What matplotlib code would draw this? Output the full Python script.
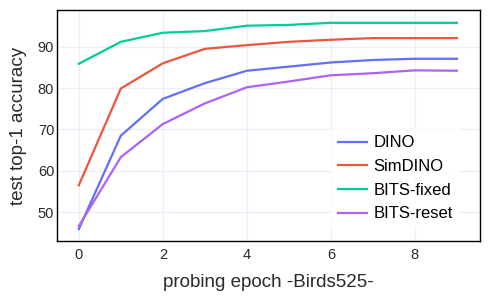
import matplotlib
matplotlib.use('Agg')
import matplotlib.pyplot as plt

plt.rcParams['font.family'] = ['Liberation Sans', 'DejaVu Sans']

# probing epochs
epochs = [0, 1, 2, 3, 4, 5, 6, 7, 8, 9]

# test top-1 accuracy per method
dino = [45.9, 68.5, 77.4, 81.2, 84.2, 85.2, 86.2, 86.8, 87.1, 87.1]
simdino = [56.5, 79.9, 86.0, 89.5, 90.4, 91.2, 91.7, 92.1, 92.1, 92.1]
bits_fixed = [85.9, 91.2, 93.4, 93.8, 95.1, 95.3, 95.8, 95.8, 95.8, 95.8]
bits_reset = [46.6, 63.3, 71.3, 76.3, 80.2, 81.6, 83.1, 83.6, 84.3, 84.2]

labels = ['DINO', 'SimDINO', 'BITS-fixed', 'BITS-reset']
colors = ['#636EFA', '#EF553B', '#00CC96', '#AB63FA']

fig = plt.figure(figsize=(5, 3), dpi=100)
ax = fig.add_axes([57/500, 1 - 241/300, 423/500, 231/300])

for ys, lab, col in zip([dino, simdino, bits_fixed, bits_reset], labels, colors):
    ax.plot(epochs, ys, color=col, lw=1.6, label=lab)

ax.set_xlim(-0.52, 9.55)
ax.set_ylim(43.0, 98.9)
ax.set_xticks([0, 2, 4, 6, 8])
ax.set_yticks([50, 60, 70, 80, 90])
ax.grid(True, color='#EBF0F8', lw=1)
ax.set_axisbelow(True)
ax.tick_params(length=0, labelsize=10.5, colors='#2a2a2a')
ax.tick_params(axis='x', pad=5)
ax.tick_params(axis='y', pad=2)
for s in ax.spines.values():
    s.set_color('black')
    s.set_linewidth(1)

ax.set_xlabel('probing epoch -Birds525-', fontsize=13.5, color='#2a2a2a', labelpad=9)
ax.set_ylabel('test top-1 accuracy', fontsize=13.5, color='#2a2a2a', labelpad=8)

leg = ax.legend(loc='lower right', bbox_to_anchor=(0.952, 0.056), borderaxespad=0,
                fontsize=12, frameon=True, fancybox=False, edgecolor='white',
                handlelength=1.75, labelspacing=0.52, handletextpad=0.4)
leg.get_frame().set_linewidth(0)

fig.savefig('out.png', dpi=100)
